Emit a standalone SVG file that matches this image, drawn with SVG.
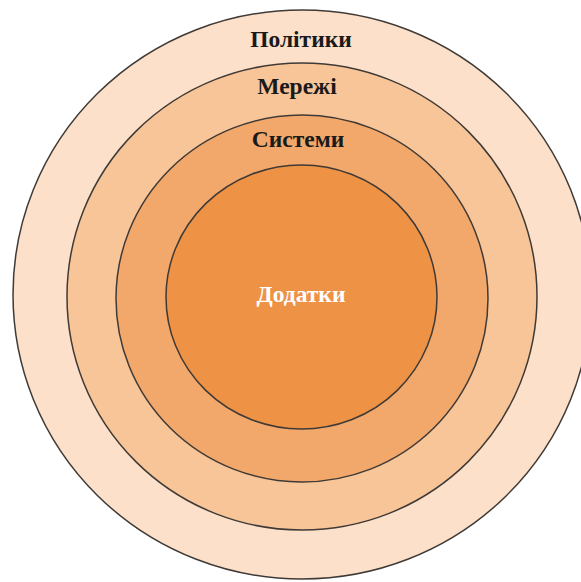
<svg xmlns="http://www.w3.org/2000/svg" width="581" height="582" viewBox="0 0 581 582">
<style>
.ring{stroke:#3f3a36;stroke-width:1.5}
.lbl{font-family:"Liberation Serif","Times New Roman",serif;font-weight:bold;font-size:23.5px;text-anchor:middle;fill:#1a1a1a}
</style>
<rect width="581" height="582" fill="#ffffff"/>
<g id="node-politics">
<ellipse class="ring" cx="302" cy="294.5" rx="289" ry="284.5" fill="#fce0c9"/>
<text class="lbl" x="301" y="47">Політики</text>
</g>
<g id="node-networks">
<ellipse class="ring" cx="302" cy="296.5" rx="235" ry="233.5" fill="#f8c598"/>
<text class="lbl" x="297" y="94">Мережі</text>
</g>
<g id="node-systems">
<ellipse class="ring" cx="302" cy="298.5" rx="186" ry="183.5" fill="#f2a86b"/>
<text class="lbl" x="298" y="147">Системи</text>
</g>
<g id="node-apps">
<ellipse class="ring" cx="301.5" cy="297" rx="135.5" ry="132" fill="#ee9246"/>
<text class="lbl" x="301" y="302" style="fill:#ffffff">Додатки</text>
</g>
<g id="connectors"></g>
</svg>
